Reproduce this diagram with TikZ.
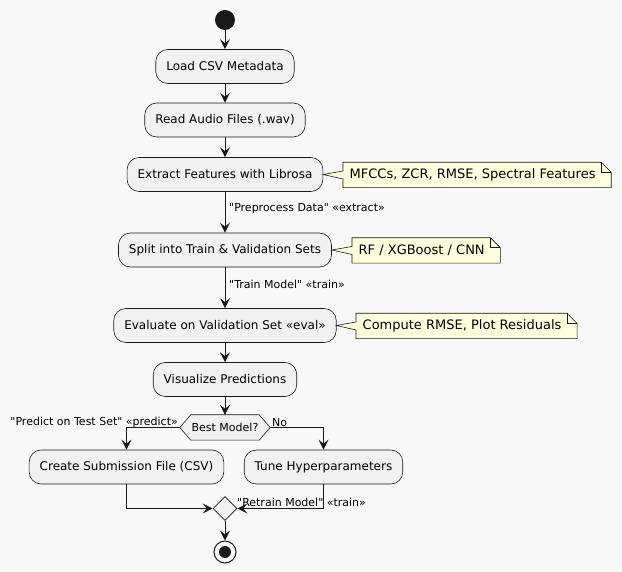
\documentclass[tikz,border=0pt]{standalone}
\usepackage{fontspec}
\setmainfont{DejaVu Sans}
% a family without the TeX quote mapping, so " stays a straight quote
\newfontfamily\plainsans{DejaVu Sans}
\usetikzlibrary{arrows.meta,shapes.geometric}

\definecolor{bgcol}{HTML}{F8F8F8}
\definecolor{linecol}{HTML}{181818}
\definecolor{boxfill}{HTML}{F1F1F1}
\definecolor{notefill}{HTML}{FEFFDD}

\tikzset{
  actbox/.style={draw=linecol, line width=0.6pt, fill=boxfill, rounded corners=12pt,
    minimum height=34pt, inner xsep=10.5pt, inner ysep=0pt,
    font=\plainsans\fontsize{12}{14}\selectfont, text=black},
  flow/.style={draw=linecol, line width=1pt,
    -{Stealth[length=10pt, width=10pt, inset=4pt]}},
  edgelabel/.style={font=\plainsans\fontsize{11}{13}\selectfont, inner sep=0pt, text=black},
  notetext/.style={inner xsep=6.5pt, inner ysep=0pt, minimum height=25pt,
    font=\plainsans\fontsize{13}{15}\selectfont, text=black},
  noteshape/.style={draw=linecol, line width=0.6pt, fill=notefill, line join=miter},
}

% draws a note outline around node #1 with its tail pointing at #2
\newcommand{\notebox}[2]{%
  \path[noteshape] (#1.north west) -- ([xshift=-10pt]#1.north east)
    -- ([yshift=-10pt]#1.north east) -- (#1.south east) -- (#1.south west)
    -- ([yshift=-4pt]#1.west) -- (#2) -- ([yshift=4pt]#1.west) -- cycle;
  \draw[draw=linecol, line width=0.6pt] ([xshift=-10pt]#1.north east)
    -- ([xshift=-10pt,yshift=-10pt]#1.north east) -- ([yshift=-10pt]#1.north east);
}
% note body: the text plus room for the folded corner
\newcommand{\notebody}[1]{\phantom{#1}\hspace*{9pt}}

\begin{document}
\begin{tikzpicture}[x=1pt, y=-1pt]
  \fill[bgcol] (0,0) rectangle (622,572);
  \useasboundingbox (0,0) rectangle (622,572);

  % start
  \node[circle, fill=linecol, minimum size=20pt, inner sep=0pt] (start) at (225,20) {};

  % activities
  \node[actbox] (load)    at (225,66.5)  {Load CSV Metadata};
  \node[actbox] (read)    at (225,120)   {Read Audio Files (.wav)};
  \node[actbox] (extract) at (225,174.5) {Extract Features with Librosa};
  \node[actbox] (split)   at (225,250)   {Split into Train \& Validation Sets};
  \node[actbox] (eval)    at (225,325.5) {Evaluate on Validation Set «eval»};
  \node[actbox] (vis)     at (225,379.5) {Visualize Predictions};

  % decision
  \node[inner sep=0pt, minimum width=68pt, minimum height=25pt] (best) at (225,427.5) {};
  \coordinate (bestL) at ([xshift=-11pt]best.west);
  \coordinate (bestR) at ([xshift=11pt]best.east);
  \path[draw=linecol, line width=0.6pt, fill=boxfill]
    (bestL) -- (best.north west) -- (best.north east) -- (bestR)
    -- (best.south east) -- (best.south west) -- cycle;
  \node[inner sep=0pt, font=\plainsans\fontsize{11}{13}\selectfont] (bestlabel) at (best) {Best Model?};

  \node[actbox] (create) at (126.5,467) {Create Submission File (CSV)};
  \node[actbox] (tune)   at (323.5,467) {Tune Hyperparameters};

  % merge and stop
  \node[diamond, draw=linecol, line width=0.6pt, fill=boxfill, inner sep=0pt,
        minimum width=24pt, minimum height=24pt] (merge) at (225,508.5) {};
  \node[circle, draw=linecol, line width=1pt, minimum size=22pt, inner sep=0pt] (stop) at (225,552) {};
  \fill[linecol] (stop.center) circle (6pt);

  % notes: placeholders fix the size, the outline goes underneath, then the text
  \node[notetext, anchor=west] (n1) at (343,175)   {\notebody{MFCCs, ZCR, RMSE, Spectral Features}};
  \node[notetext, anchor=west] (n2) at (352,250.5) {\notebody{RF / XGBoost / CNN}};
  \node[notetext, anchor=west] (n3) at (356,326)   {\notebody{Compute RMSE, Plot Residuals}};
  \notebox{n1}{extract.east}
  \notebox{n2}{split.east}
  \notebox{n3}{eval.east}
  \node[notetext, anchor=west] (t1) at (343,175)   {MFCCs, ZCR, RMSE, Spectral Features};
  \node[notetext, anchor=west] (t2) at (352,250.5) {RF / XGBoost / CNN};
  \node[notetext, anchor=west] (t3) at (356,326)   {Compute RMSE, Plot Residuals};

  % connectors
  \draw[flow] (start) -- (load);
  \draw[flow] (load) -- (read);
  \draw[flow] (read) -- (extract);
  \draw[flow] (extract) -- (split);
  \draw[flow] (split) -- (eval);
  \draw[flow] (eval) -- (vis);
  \draw[flow] (vis) -- (best.north);
  \draw[flow] (bestL) -| (create.north);
  \draw[flow] (bestR) -| (tune.north);
  \draw[flow] (create.south) |- (merge.west);
  \draw[flow] (tune.south) |- (merge.east);
  \draw[flow] (merge) -- (stop);

  % connector labels
  \node[edgelabel, anchor=west] (lpre)  at (229,209) {"Preprocess Data" «extract»};
  \node[edgelabel, anchor=west] (ltrn)  at (229,284.5) {"Train Model" «train»};
  \node[edgelabel, anchor=east] (lpred) at (178,422.5) {"Predict on Test Set" «predict»};
  \node[edgelabel, anchor=west] (lno)   at (272,422.5) {No};
  \node[edgelabel, anchor=west] (lret)  at (237,502) {"Retrain Model" «train»};
\end{tikzpicture}
\end{document}
